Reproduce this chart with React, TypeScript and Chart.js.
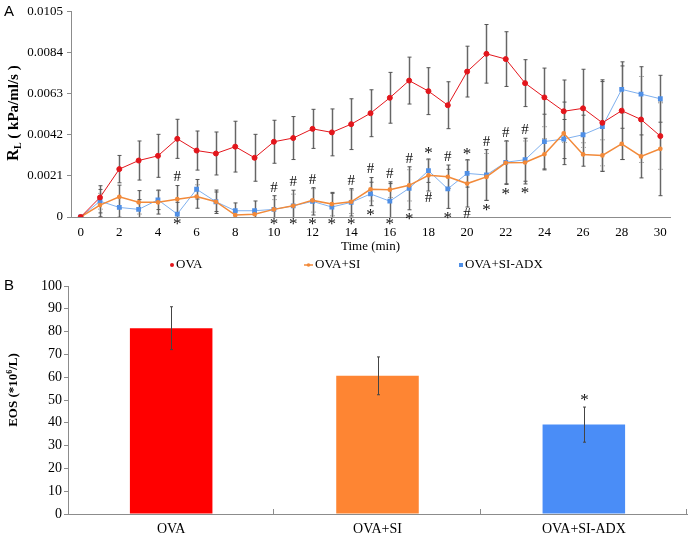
import React, { useEffect, useRef } from 'react';
import { Chart, registerables } from 'chart.js';

Chart.register(...registerables);

// ---------- Panel A data ----------
const timeLabels = ['0','1','2','3','4','5','6','7','8','9','10','11','12','13','14','15','16','17','18','19','20','21','22','23','24','25','26','27','28','29','30'];
const xTickLabels = ['0','2','4','6','8','10','12','14','16','18','20','22','24','26','28','30'];
const yTicksA = [0, 0.0021, 0.0042, 0.0063, 0.0084, 0.0105];
const yTickLabelsA = ['0', '0.0021', '0.0042', '0.0063', '0.0084', '0.0105'];

const ovaValues = [0, 0.0010, 0.00245, 0.00289, 0.00313, 0.0040, 0.0034, 0.00325, 0.0036, 0.00303, 0.00385, 0.00404, 0.00451, 0.00433, 0.00475, 0.00531, 0.0061, 0.00698, 0.00644, 0.00572, 0.00744, 0.00835, 0.00808, 0.00685, 0.00612, 0.00541, 0.00556, 0.00482, 0.00544, 0.00499, 0.00414];
const ovaErr = [0, 0.0006, 0.0007, 0.0010, 0.0011, 0.0010, 0.0010, 0.0011, 0.0013, 0.0012, 0.0011, 0.0011, 0.0010, 0.0012, 0.0013, 0.0012, 0.0013, 0.0012, 0.0012, 0.0012, 0.0013, 0.0015, 0.0014, 0.0012, 0.0015, 0.0016, 0.0020, 0.0022, 0.0025, 0.0022, 0.0017];

const siValues = [0, 0.00061, 0.00103, 0.00075, 0.00075, 0.00091, 0.00105, 0.00078, 0.0001, 0.00014, 0.00039, 0.00057, 0.00085, 0.00066, 0.00078, 0.00142, 0.0014, 0.00162, 0.00213, 0.00206, 0.00171, 0.00205, 0.00277, 0.00279, 0.00321, 0.00428, 0.0032, 0.00315, 0.00374, 0.0031, 0.00349];
const siErr = [0, 0.0006, 0.0006, 0.0006, 0.0006, 0.0007, 0.0006, 0.0006, 0.0002, 0.0002, 0.0005, 0.0006, 0.0006, 0.0006, 0.0006, 0.0006, 0.0004, 0.0008, 0.0008, 0.0006, 0.0012, 0.0012, 0.0011, 0.0011, 0.0008, 0.0016, 0.0006, 0.0008, 0.0008, 0.0011, 0.0024];

const adxValues = [0, 0.00081, 0.00049, 0.00039, 0.00088, 0.00015, 0.00142, 0.00078, 0.00032, 0.00032, 0.00039, 0.00057, 0.0008, 0.00051, 0.00075, 0.00118, 0.00081, 0.00147, 0.00237, 0.00144, 0.00223, 0.00215, 0.0028, 0.00293, 0.00386, 0.00399, 0.00421, 0.00463, 0.00653, 0.00629, 0.00605];
const adxErr = [0, 0.0006, 0.0005, 0.0005, 0.0005, 0.0006, 0.0005, 0.0005, 0.0004, 0.0005, 0.0007, 0.0008, 0.0007, 0.0007, 0.0007, 0.0006, 0.0009, 0.0011, 0.0006, 0.0010, 0.0007, 0.0013, 0.0011, 0.0011, 0.0014, 0.0010, 0.0010, 0.0023, 0.0012, 0.0014, 0.0012];

// significance marks (minute indices)
const hashAbove = [5, 10, 11, 12, 14, 15, 16, 17, 19, 21, 22, 23];
const hashBelow = [18, 20];
const starAbove = [18, 20];
const starBelow = [5, 10, 11, 12, 13, 14, 15, 16, 17, 19, 21, 22, 23];

// ---------- Panel B data ----------
const eosCategories = ['OVA', 'OVA+SI', 'OVA+SI-ADX'];
const eosValues = [81.5, 60.6, 39.2];
const eosErr = [9.4, 8.3, 7.7];
const eosSig = ['', '', '*'];

const RED = '#E3161C';
const ORANGE = '#F28A3A';
const BLUE = '#4F8FE6';
const SERIF = "'Liberation Serif', 'Times New Roman', serif";
const SANS = "'Liberation Sans', Arial, sans-serif";
const AXIS = '#8c8c8c';

function line(ctx: CanvasRenderingContext2D, x1: number, y1: number, x2: number, y2: number) {
  ctx.beginPath();
  ctx.moveTo(x1, y1);
  ctx.lineTo(x2, y2);
  ctx.stroke();
}

const panelAPlugin = {
  id: 'panelA',
  beforeDatasetsDraw(chart: any) {
    const { ctx, scales: { x, y }, chartArea } = chart;
    ctx.save();
    ctx.beginPath();
    ctx.rect(chartArea.left, chartArea.top - 5, chartArea.right - chartArea.left, chartArea.bottom - chartArea.top + 5);
    ctx.clip();
    chart.data.datasets.forEach((ds: any) => {
      const errs = ds.errorBars as number[];
      ds.data.forEach((v: number, i: number) => {
        const e = errs[i];
        if (!e) return;
        const px = Math.round(x.getPixelForValue(i)) + 0.5;
        const top = y.getPixelForValue(v + e);
        const bot = y.getPixelForValue(v - e);
        ctx.strokeStyle = '#cfcfcf';
        ctx.lineWidth = 2.5;
        line(ctx, px, top, px, bot);
        ctx.strokeStyle = '#666';
        ctx.lineWidth = 1;
        line(ctx, px, top, px, bot);
        ctx.strokeStyle = '#555';
        line(ctx, px - 2, top, px + 2, top);
        line(ctx, px - 2, bot, px + 2, bot);
      });
    });
    ctx.restore();
  },
  afterDraw(chart: any) {
    const { ctx, scales: { x, y }, chartArea } = chart;
    const sets = chart.data.datasets.slice(1);
    const upper = (i: number) => Math.max(...sets.map((d: any) => d.data[i] + d.errorBars[i]));
    const lower = (i: number) => Math.min(...sets.map((d: any) => d.data[i] - d.errorBars[i]));
    ctx.save();
    ctx.fillStyle = '#111';
    ctx.textAlign = 'center';
    ctx.textBaseline = 'middle';
    const mark = (txt: string, i: number, above: boolean) => {
      const px = x.getPixelForValue(i);
      let py: number;
      if (above) py = y.getPixelForValue(upper(i)) - 8;
      else py = Math.min(y.getPixelForValue(lower(i)) + 7, chartArea.bottom + 5);
      if (txt === '*') {
        ctx.font = `17px ${SERIF}`;
        ctx.fillText('*', px, py + 3);
      } else {
        ctx.font = `15px ${SERIF}`;
        ctx.fillText('#', px, py);
      }
    };
    hashAbove.forEach((i) => mark('#', i, true));
    hashBelow.forEach((i) => mark('#', i, false));
    starAbove.forEach((i) => mark('*', i, true));
    starBelow.forEach((i) => mark('*', i, false));

    // x-axis title
    ctx.font = `13px ${SERIF}`;
    ctx.fillStyle = '#000';
    ctx.fillText('Time (min)', (chartArea.left + chartArea.right) / 2, 247);

    // legend
    const ly = 265;
    ctx.textAlign = 'left';
    ctx.font = `13px ${SERIF}`;
    ctx.fillStyle = RED;
    ctx.beginPath();
    ctx.arc(172, ly, 2, 0, Math.PI * 2);
    ctx.fill();
    ctx.fillStyle = '#000';
    ctx.fillText('OVA', 176, ly);
    ctx.strokeStyle = ORANGE;
    ctx.lineWidth = 1.5;
    line(ctx, 304, ly, 313, ly);
    ctx.fillStyle = ORANGE;
    ctx.beginPath();
    ctx.arc(308.5, ly, 1.8, 0, Math.PI * 2);
    ctx.fill();
    ctx.fillStyle = '#000';
    ctx.fillText('OVA+SI', 315, ly);
    ctx.fillStyle = BLUE;
    ctx.fillRect(459, ly - 2, 4, 4);
    ctx.fillStyle = '#000';
    ctx.fillText('OVA+SI-ADX', 465, ly);

    // y-axis title with subscript
    ctx.save();
    ctx.translate(13, 113);
    ctx.rotate(-Math.PI / 2);
    const f1 = `bold 16px ${SERIF}`;
    const f2 = `bold 10px ${SERIF}`;
    const f3 = `bold 15px ${SERIF}`;
    ctx.font = f1; const w1 = ctx.measureText('R').width;
    ctx.font = f2; const w2 = ctx.measureText('L').width;
    ctx.font = f3; const w3 = ctx.measureText(' ( kPa/ml/s )').width;
    const x0 = -(w1 + w2 + w3) / 2;
    ctx.textBaseline = 'alphabetic';
    ctx.font = f1; ctx.fillText('R', x0, 5);
    ctx.font = f2; ctx.fillText('L', x0 + w1, 8);
    ctx.font = f3; ctx.fillText(' ( kPa/ml/s )', x0 + w1 + w2, 5);
    ctx.restore();

    // panel letter
    ctx.font = `15px ${SANS}`;
    ctx.textAlign = 'left';
    ctx.textBaseline = 'middle';
    ctx.fillText('A', 4, 12);
    ctx.restore();
  },
};

const panelBPlugin = {
  id: 'panelB',
  afterDatasetsDraw(chart: any) {
    const { ctx, scales: { x, y }, chartArea } = chart;
    ctx.save();
    ctx.strokeStyle = '#444';
    ctx.lineWidth = 1;
    eosValues.forEach((v, i) => {
      const px = Math.round(x.getPixelForValue(i)) + 0.5;
      const top = y.getPixelForValue(v + eosErr[i]);
      const bot = y.getPixelForValue(v - eosErr[i]);
      line(ctx, px, top, px, bot);
      line(ctx, px - 1.5, top, px + 1.5, top);
      line(ctx, px - 1.5, bot, px + 1.5, bot);
      if (eosSig[i]) {
        ctx.fillStyle = '#111';
        ctx.font = `17px ${SERIF}`;
        ctx.textAlign = 'center';
        ctx.textBaseline = 'middle';
        ctx.fillText(eosSig[i], px, top - 10 + 3);
      }
    });
    // inward tick marks at category boundaries
    ctx.strokeStyle = AXIS;
    const step = x.getPixelForValue(1) - x.getPixelForValue(0);
    eosValues.forEach((_, i) => {
      const bx = Math.round(x.getPixelForValue(i) + step / 2) - 0.5;
      line(ctx, bx, chartArea.bottom - 5, bx, chartArea.bottom);
    });
    ctx.restore();
  },
  afterDraw(chart: any) {
    const { ctx } = chart;
    ctx.save();
    ctx.fillStyle = '#000';
    // y title with superscript
    ctx.translate(13, 120);
    ctx.rotate(-Math.PI / 2);
    const f1 = `bold 13px ${SERIF}`;
    const f2 = `bold 8px ${SERIF}`;
    ctx.font = f1; const w1 = ctx.measureText('EOS (*10').width;
    ctx.font = f2; const w2 = ctx.measureText('6').width;
    ctx.font = f1; const w3 = ctx.measureText('/L)').width;
    const x0 = -(w1 + w2 + w3) / 2;
    ctx.textBaseline = 'alphabetic';
    ctx.font = f1; ctx.fillText('EOS (*10', x0, 4);
    ctx.font = f2; ctx.fillText('6', x0 + w1, -1);
    ctx.font = f1; ctx.fillText('/L)', x0 + w1 + w2, 4);
    ctx.restore();
    ctx.save();
    ctx.fillStyle = '#000';
    ctx.font = `15px ${SANS}`;
    ctx.textBaseline = 'middle';
    ctx.fillText('B', 4, 16);
    ctx.restore();
  },
};

export default function App() {
  const refA = useRef<HTMLCanvasElement>(null);
  const refB = useRef<HTMLCanvasElement>(null);

  useEffect(() => {
    Chart.defaults.font.family = SERIF;
    Chart.defaults.color = '#000';

    const chartA = new Chart(refA.current!, {
      type: 'line',
      data: {
        labels: timeLabels,
        datasets: [
          {
            label: 'OVA', data: ovaValues, errorBars: ovaErr,
            borderColor: RED, backgroundColor: RED, borderWidth: 1,
            pointStyle: 'circle', pointRadius: 2.5, pointBackgroundColor: RED, pointBorderColor: RED,
          } as any,
          {
            label: 'OVA+SI', data: siValues, errorBars: siErr,
            borderColor: ORANGE, backgroundColor: ORANGE, borderWidth: 1.5,
            pointStyle: 'circle', pointRadius: 1.6, pointBackgroundColor: ORANGE, pointBorderColor: ORANGE,
          } as any,
          {
            label: 'OVA+SI-ADX', data: adxValues, errorBars: adxErr,
            borderColor: '#7FB0EE', backgroundColor: BLUE, borderWidth: 1,
            pointStyle: 'rect', pointRadius: 3.4, pointBackgroundColor: BLUE, pointBorderColor: BLUE, pointBorderWidth: 0,
          } as any,
        ],
      },
      options: {
        responsive: false,
        animation: false,
        devicePixelRatio: 1,
        layout: { padding: { left: 0, right: 20, top: 10, bottom: 0 } },
        plugins: { legend: { display: false }, tooltip: { enabled: false } },
        scales: {
          x: {
            type: 'category',
            offset: true,
            grid: { display: false, drawTicks: false },
            border: { display: true, color: AXIS, width: 1 },
            ticks: {
              autoSkip: false, maxRotation: 0, padding: 8,
              font: { size: 13, family: SERIF }, color: '#000',
              callback: (_v: any, i: number) => (xTickLabels.includes(timeLabels[i]) ? timeLabels[i] : ''),
            },
            afterFit: (s: any) => { s.height = 53; },
          },
          y: {
            min: 0, max: 0.0105,
            grid: { display: true, drawOnChartArea: false, drawTicks: true, tickLength: 4, color: AXIS },
            border: { display: true, color: AXIS, width: 1 },
            ticks: {
              padding: 4, font: { size: 13, family: SERIF }, color: '#000',
              callback: (v: any) => { const k = yTicksA.findIndex((t) => Math.abs(t - v) < 1e-9); return k >= 0 ? yTickLabelsA[k] : ''; },
            },
            afterBuildTicks: (s: any) => { s.ticks = yTicksA.map((v) => ({ value: v })); },
            afterFit: (s: any) => { s.width = 71; },
          },
        },
      } as any,
      plugins: [panelAPlugin],
    });

    const chartB = new Chart(refB.current!, {
      type: 'bar',
      data: {
        labels: eosCategories,
        datasets: [{
          label: 'EOS', data: eosValues,
          backgroundColor: ['#FF0000', '#FE8533', '#4A8DF7'],
          borderWidth: 0,
          categoryPercentage: 0.8, barPercentage: 0.5,
        }],
      },
      options: {
        responsive: false,
        animation: false,
        devicePixelRatio: 1,
        layout: { padding: { left: 0, right: 3, top: 16, bottom: 0 } },
        plugins: { legend: { display: false }, tooltip: { enabled: false } },
        scales: {
          x: {
            grid: { display: false, drawTicks: false },
            border: { display: true, color: AXIS, width: 1 },
            ticks: { padding: 7, font: { size: 14, family: SERIF }, color: '#000' },
            afterFit: (s: any) => { s.height = 24; },
          },
          y: {
            min: 0, max: 100,
            grid: { display: true, drawOnChartArea: false, drawTicks: true, tickLength: 4, color: AXIS },
            border: { display: true, color: AXIS, width: 1 },
            ticks: { stepSize: 10, padding: 2, font: { size: 14, family: SERIF }, color: '#000' },
            afterFit: (s: any) => { s.width = 68; },
          },
        },
      } as any,
      plugins: [panelBPlugin],
    });

    return () => { chartA.destroy(); chartB.destroy(); };
  }, []);

  return (
    <div style={{ position: 'fixed', left: 0, top: 0, width: 690, height: 538, background: '#fff' }}>
      <canvas ref={refA} width={690} height={270} style={{ position: 'absolute', left: 0, top: 0, display: 'block' }} />
      <canvas ref={refB} width={690} height={268} style={{ position: 'absolute', left: 0, top: 270, display: 'block' }} />
    </div>
  );
}
